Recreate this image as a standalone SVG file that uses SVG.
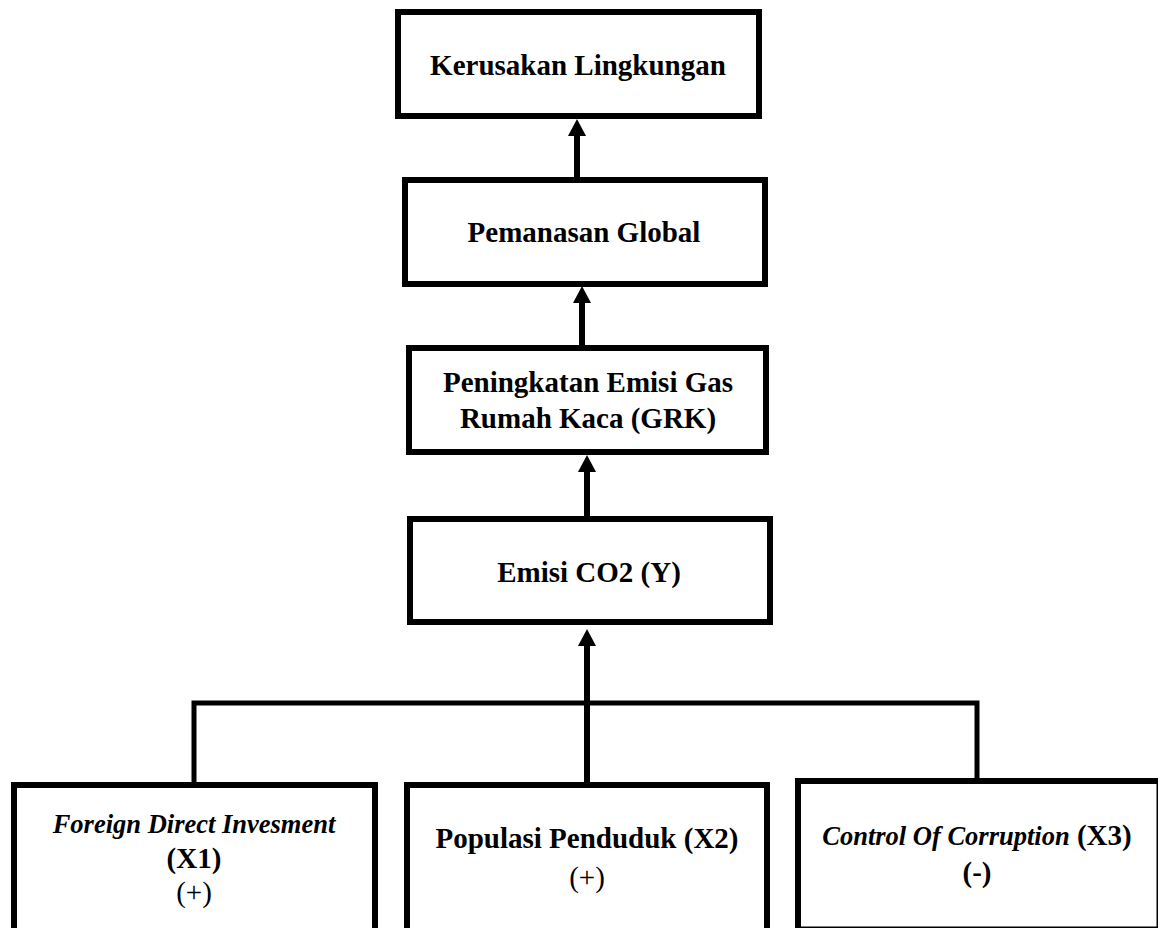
<svg xmlns="http://www.w3.org/2000/svg" width="1158" height="928" viewBox="0 0 1158 928">
<defs>
<style>
.box{fill:#fff;stroke:#000;stroke-width:6}
.t{font-family:"Liberation Serif","Times New Roman",serif;font-size:29px;font-weight:bold;fill:#000;text-anchor:middle}
.i{font-style:italic;font-size:26.5px}
.s{font-family:"Liberation Serif","Times New Roman",serif;font-size:29px;fill:#000;text-anchor:middle}
.c{fill:none;stroke:#000;stroke-width:6}
.h{fill:none;stroke:#000;stroke-width:5}
</style>
<marker id="ah" viewBox="0 0 17 18" refX="0" refY="9" markerUnits="userSpaceOnUse" markerWidth="17" markerHeight="18" orient="auto">
<path d="M0,0 L17,9 L0,18 z" fill="#000"/>
</marker>
</defs>
<rect width="1158" height="928" fill="#fff"/>
<g id="connectors">
<line class="c" x1="577" y1="178" x2="577" y2="136" marker-end="url(#ah)"/>
<line class="c" x1="582" y1="346" x2="582" y2="303" marker-end="url(#ah)"/>
<line class="c" x1="587" y1="517" x2="587" y2="472" marker-end="url(#ah)"/>
<line class="c" x1="587" y1="783" x2="587" y2="646" marker-end="url(#ah)"/>
<polyline class="h" points="194,784 194,703 977,703 977,779"/>
</g>
<g id="n1">
<rect class="box" x="398" y="12" width="361" height="104"/>
<text class="t" x="578" y="75">Kerusakan Lingkungan</text>
</g>
<g id="n2">
<rect class="box" x="405" y="180" width="360" height="104"/>
<text class="t" x="584" y="242">Pemanasan Global</text>
</g>
<g id="n3">
<rect class="box" x="409" y="348" width="357" height="104"/>
<text class="t" x="588" y="392">Peningkatan Emisi Gas</text>
<text class="t" x="588" y="428">Rumah Kaca (GRK)</text>
</g>
<g id="n4">
<rect class="box" x="410" y="519" width="360" height="103"/>
<text class="t" x="589" y="582">Emisi CO2 (Y)</text>
</g>
<g id="x1">
<rect class="box" x="14" y="785" width="361" height="160"/>
<text class="t i" x="194" y="833">Foreign Direct Invesment</text>
<text class="t" x="194" y="868">(X1)</text>
<text class="s" x="194" y="902">(+)</text>
</g>
<g id="x2">
<rect class="box" x="407" y="785" width="360" height="160"/>
<text class="t" x="587" y="848">Populasi Penduduk (X2)</text>
<text class="s" x="587" y="887">(+)</text>
</g>
<g id="x3">
<rect class="box" x="798" y="781" width="361.5" height="148.5"/>
<text class="t" x="977" y="845"><tspan class="i">Control Of Corruption</tspan> (X3)</text>
<text class="t" x="977" y="882">(-)</text>
</g>
</svg>
